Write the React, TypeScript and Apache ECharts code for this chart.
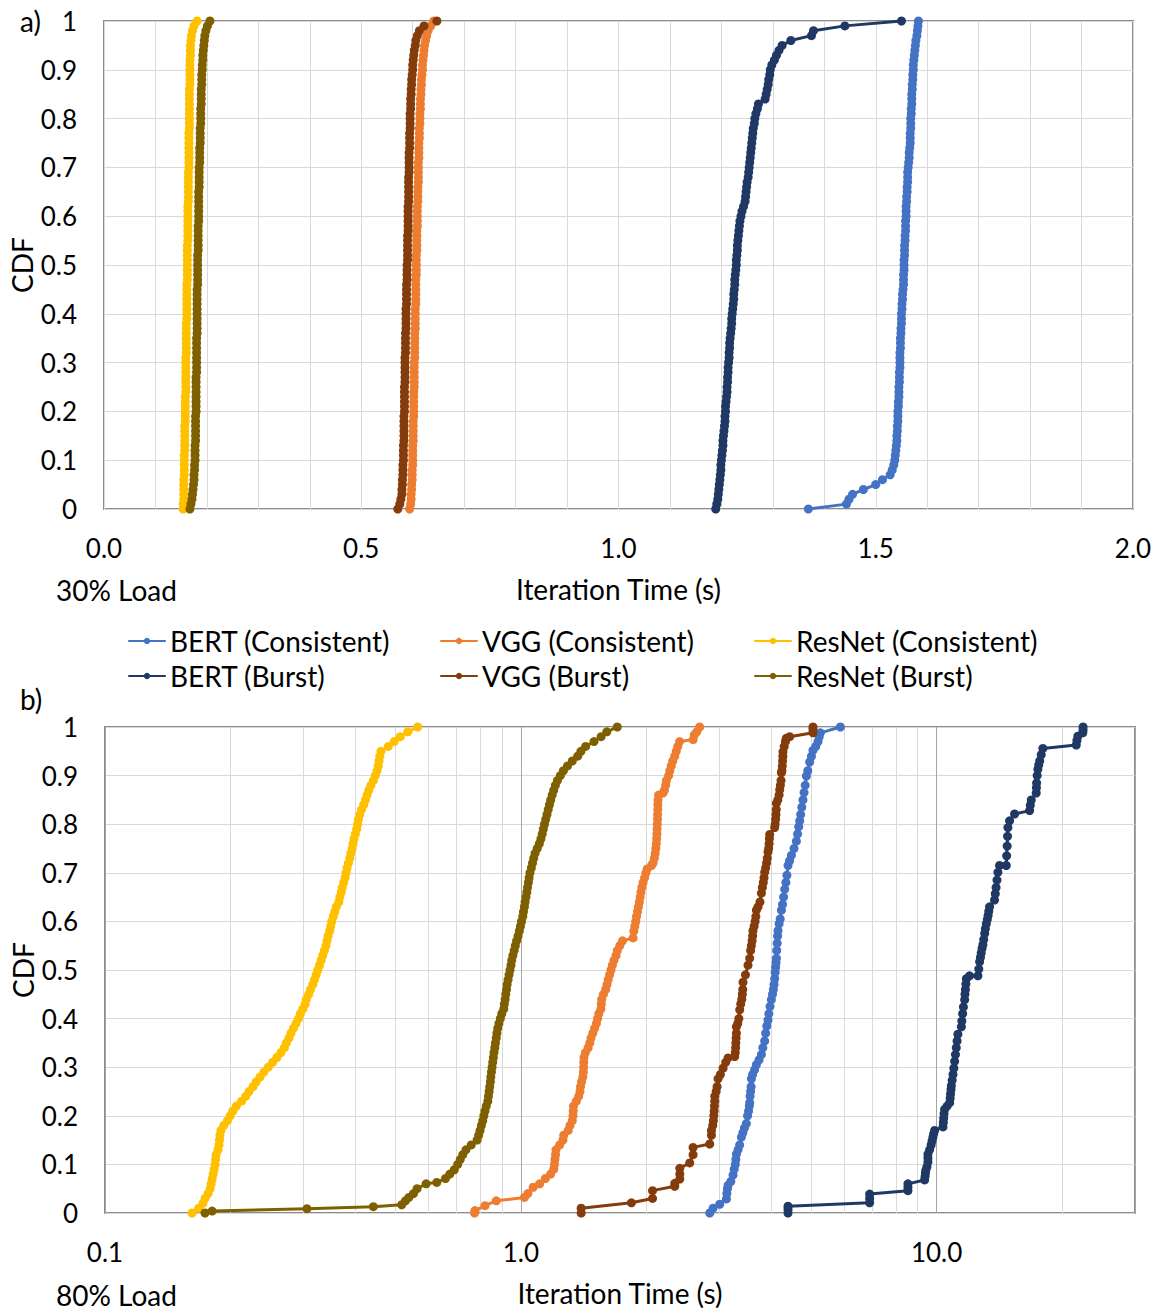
import React, { useEffect, useRef } from "react";
import * as echarts from "echarts";

const FONT = "Lato, 'Open Sans', sans-serif";
const TEXT_SIZE = 28;
const TICK_SIZE = 26;
const TEXT_COLOR = "#000000";

// Cumulative probability levels for the 30% load percentiles
const CDF_STEPS = [
  0, 0.01, 0.02, 0.03, 0.04, 0.05, 0.06, 0.07, 0.08, 0.09,
  0.1, 0.11, 0.12, 0.13, 0.14, 0.15, 0.16, 0.17, 0.18, 0.19,
  0.2, 0.21, 0.22, 0.23, 0.24, 0.25, 0.26, 0.27, 0.28, 0.29,
  0.3, 0.31, 0.32, 0.33, 0.34, 0.35, 0.36, 0.37, 0.38, 0.39,
  0.4, 0.41, 0.42, 0.43, 0.44, 0.45, 0.46, 0.47, 0.48, 0.49,
  0.5, 0.51, 0.52, 0.53, 0.54, 0.55, 0.56, 0.57, 0.58, 0.59,
  0.6, 0.61, 0.62, 0.63, 0.64, 0.65, 0.66, 0.67, 0.68, 0.69,
  0.7, 0.71, 0.72, 0.73, 0.74, 0.75, 0.76, 0.77, 0.78, 0.79,
  0.8, 0.81, 0.82, 0.83, 0.84, 0.85, 0.86, 0.87, 0.88, 0.89,
  0.9, 0.91, 0.92, 0.93, 0.94, 0.95, 0.96, 0.97, 0.98, 0.99,
  1,
];

// 30% load: iteration time (s) at each CDF step
const LOAD30_BERT_CONSISTENT = [
  1.369, 1.443, 1.448, 1.455, 1.476, 1.5, 1.513, 1.528, 1.532, 1.535,
  1.537, 1.538, 1.539, 1.54, 1.541, 1.541, 1.542, 1.542, 1.543, 1.543,
  1.543, 1.544, 1.544, 1.545, 1.545, 1.545, 1.546, 1.546, 1.546, 1.547,
  1.547, 1.547, 1.547, 1.548, 1.548, 1.548, 1.549, 1.549, 1.55, 1.55,
  1.55, 1.551, 1.551, 1.552, 1.552, 1.553, 1.554, 1.554, 1.554, 1.555,
  1.555, 1.555, 1.556, 1.556, 1.556, 1.557, 1.557, 1.558, 1.558, 1.558,
  1.559, 1.559, 1.559, 1.56, 1.56, 1.561, 1.561, 1.562, 1.562, 1.562,
  1.563, 1.564, 1.565, 1.565, 1.566, 1.567, 1.567, 1.567, 1.568, 1.568,
  1.568, 1.569, 1.569, 1.57, 1.57, 1.57, 1.571, 1.571, 1.572, 1.572,
  1.573, 1.573, 1.574, 1.575, 1.576, 1.577, 1.578, 1.58, 1.581, 1.582,
  1.583,
];
const LOAD30_VGG_CONSISTENT = [
  0.594, 0.596, 0.597, 0.597, 0.598, 0.598, 0.599, 0.599, 0.599, 0.6,
  0.6, 0.6, 0.6, 0.6, 0.601, 0.601, 0.601, 0.601, 0.601, 0.602,
  0.602, 0.602, 0.602, 0.602, 0.602, 0.603, 0.603, 0.603, 0.603, 0.603,
  0.603, 0.604, 0.604, 0.604, 0.604, 0.604, 0.604, 0.605, 0.605, 0.605,
  0.605, 0.605, 0.606, 0.606, 0.606, 0.606, 0.606, 0.606, 0.607, 0.607,
  0.607, 0.607, 0.607, 0.608, 0.608, 0.608, 0.608, 0.608, 0.609, 0.609,
  0.609, 0.609, 0.609, 0.61, 0.61, 0.61, 0.61, 0.611, 0.611, 0.611,
  0.611, 0.611, 0.612, 0.612, 0.612, 0.612, 0.613, 0.613, 0.613, 0.614,
  0.614, 0.614, 0.615, 0.615, 0.615, 0.616, 0.616, 0.617, 0.617, 0.618,
  0.619, 0.619, 0.62, 0.621, 0.622, 0.623, 0.625, 0.627, 0.63, 0.635,
  0.641,
];
const LOAD30_RESNET_CONSISTENT = [
  0.154, 0.154, 0.155, 0.155, 0.155, 0.155, 0.155, 0.156, 0.156, 0.156,
  0.156, 0.156, 0.157, 0.157, 0.157, 0.157, 0.157, 0.157, 0.158, 0.158,
  0.158, 0.158, 0.158, 0.158, 0.159, 0.159, 0.159, 0.159, 0.159, 0.159,
  0.159, 0.159, 0.16, 0.16, 0.16, 0.16, 0.16, 0.16, 0.16, 0.161,
  0.161, 0.161, 0.161, 0.161, 0.161, 0.161, 0.161, 0.162, 0.162, 0.162,
  0.162, 0.162, 0.162, 0.162, 0.162, 0.163, 0.163, 0.163, 0.163, 0.163,
  0.163, 0.163, 0.163, 0.164, 0.164, 0.164, 0.164, 0.164, 0.164, 0.164,
  0.165, 0.165, 0.165, 0.165, 0.165, 0.165, 0.165, 0.165, 0.166, 0.166,
  0.166, 0.166, 0.166, 0.166, 0.166, 0.166, 0.166, 0.167, 0.167, 0.167,
  0.167, 0.167, 0.167, 0.168, 0.168, 0.168, 0.169, 0.17, 0.172, 0.175,
  0.181,
];
const LOAD30_BERT_BURST = [
  1.189, 1.191, 1.193, 1.194, 1.195, 1.196, 1.197, 1.198, 1.199, 1.199,
  1.2, 1.201, 1.202, 1.203, 1.203, 1.204, 1.205, 1.206, 1.207, 1.207,
  1.208, 1.208, 1.209, 1.21, 1.211, 1.211, 1.212, 1.212, 1.213, 1.213,
  1.214, 1.215, 1.215, 1.216, 1.216, 1.217, 1.218, 1.219, 1.22, 1.22,
  1.221, 1.222, 1.223, 1.224, 1.224, 1.225, 1.226, 1.226, 1.227, 1.228,
  1.229, 1.229, 1.23, 1.231, 1.231, 1.232, 1.233, 1.234, 1.235, 1.236,
  1.238, 1.24, 1.243, 1.246, 1.247, 1.248, 1.249, 1.25, 1.252, 1.253,
  1.254, 1.255, 1.256, 1.257, 1.258, 1.259, 1.26, 1.261, 1.262, 1.264,
  1.265, 1.267, 1.27, 1.272, 1.285, 1.287, 1.289, 1.291, 1.292, 1.294,
  1.295, 1.298, 1.303, 1.307, 1.312, 1.318, 1.335, 1.375, 1.379, 1.44,
  1.55,
];
const LOAD30_VGG_BURST = [
  0.571, 0.575, 0.577, 0.579, 0.579, 0.58, 0.58, 0.581, 0.581, 0.581,
  0.582, 0.582, 0.582, 0.582, 0.583, 0.583, 0.583, 0.583, 0.583, 0.583,
  0.584, 0.584, 0.584, 0.584, 0.584, 0.584, 0.585, 0.585, 0.585, 0.585,
  0.585, 0.585, 0.586, 0.586, 0.586, 0.586, 0.586, 0.587, 0.587, 0.587,
  0.587, 0.587, 0.588, 0.588, 0.588, 0.588, 0.588, 0.589, 0.589, 0.589,
  0.589, 0.59, 0.59, 0.59, 0.59, 0.59, 0.59, 0.591, 0.591, 0.591,
  0.591, 0.591, 0.591, 0.592, 0.592, 0.592, 0.592, 0.592, 0.592, 0.593,
  0.593, 0.593, 0.593, 0.593, 0.594, 0.594, 0.594, 0.594, 0.595, 0.595,
  0.595, 0.595, 0.596, 0.596, 0.596, 0.597, 0.597, 0.598, 0.598, 0.599,
  0.6, 0.6, 0.601, 0.602, 0.603, 0.605, 0.606, 0.609, 0.613, 0.622,
  0.647,
];
const LOAD30_RESNET_BURST = [
  0.167, 0.169, 0.171, 0.172, 0.173, 0.174, 0.175, 0.175, 0.176, 0.176,
  0.177, 0.177, 0.177, 0.177, 0.178, 0.178, 0.178, 0.178, 0.178, 0.178,
  0.179, 0.179, 0.179, 0.179, 0.179, 0.179, 0.179, 0.179, 0.18, 0.18,
  0.18, 0.18, 0.18, 0.18, 0.18, 0.18, 0.181, 0.181, 0.181, 0.181,
  0.181, 0.181, 0.181, 0.181, 0.181, 0.181, 0.182, 0.182, 0.182, 0.182,
  0.182, 0.182, 0.182, 0.183, 0.183, 0.183, 0.183, 0.183, 0.183, 0.184,
  0.184, 0.184, 0.184, 0.184, 0.184, 0.184, 0.185, 0.185, 0.185, 0.185,
  0.185, 0.186, 0.186, 0.186, 0.186, 0.187, 0.187, 0.187, 0.187, 0.188,
  0.188, 0.188, 0.188, 0.189, 0.189, 0.189, 0.189, 0.19, 0.19, 0.19,
  0.191, 0.191, 0.192, 0.192, 0.193, 0.194, 0.195, 0.196, 0.198, 0.201,
  0.206,
];

// 80% load: [iteration time (s), CDF]
const LOAD80_BERT_CONSISTENT = [
  [2.847, 0], [2.9, 0.01], [3.009, 0.018], [3.123, 0.029], [3.13, 0.04], [3.14, 0.05],
  [3.151, 0.057], [3.2, 0.065], [3.239, 0.078], [3.26, 0.09], [3.28, 0.1], [3.29, 0.11],
  [3.3, 0.121], [3.33, 0.13], [3.36, 0.14], [3.392, 0.156], [3.42, 0.165], [3.45, 0.175],
  [3.487, 0.184], [3.51, 0.2], [3.53, 0.21], [3.545, 0.22], [3.552, 0.227], [3.56, 0.24],
  [3.57, 0.25], [3.58, 0.26], [3.586, 0.276], [3.61, 0.285], [3.65, 0.295], [3.686, 0.305],
  [3.74, 0.315], [3.79, 0.326], [3.82, 0.34], [3.859, 0.354], [3.88, 0.37], [3.905, 0.385],
  [3.931, 0.397], [3.95, 0.41], [3.975, 0.425], [4.005, 0.439], [4.03, 0.45], [4.05, 0.46],
  [4.065, 0.47], [4.079, 0.482], [4.09, 0.495], [4.1, 0.505], [4.11, 0.515], [4.118, 0.524],
  [4.125, 0.54], [4.135, 0.555], [4.145, 0.57], [4.155, 0.581], [4.18, 0.595], [4.205, 0.605],
  [4.234, 0.623], [4.26, 0.635], [4.285, 0.65], [4.312, 0.666], [4.34, 0.68], [4.365, 0.695],
  [4.392, 0.715], [4.43, 0.725], [4.475, 0.736], [4.54, 0.75], [4.6, 0.765], [4.63, 0.78],
  [4.66, 0.795], [4.685, 0.807], [4.71, 0.82], [4.74, 0.835], [4.771, 0.85], [4.8, 0.865],
  [4.83, 0.88], [4.862, 0.899], [4.9, 0.91], [4.951, 0.928], [5.0, 0.94], [5.043, 0.952],
  [5.12, 0.96], [5.185, 0.97], [5.22, 0.98], [5.254, 0.988], [5.869, 1],
];
const LOAD80_VGG_CONSISTENT = [
  [0.774, 0], [0.776, 0.005], [0.82, 0.015], [0.873, 0.025], [1.02, 0.032], [1.04, 0.04],
  [1.071, 0.053], [1.11, 0.06], [1.146, 0.071], [1.18, 0.08], [1.2, 0.09], [1.205, 0.1],
  [1.208, 0.11], [1.212, 0.12], [1.215, 0.13], [1.24, 0.14], [1.263, 0.15], [1.268, 0.16],
  [1.3, 0.17], [1.313, 0.18], [1.33, 0.19], [1.335, 0.2], [1.337, 0.21], [1.339, 0.22],
  [1.36, 0.23], [1.378, 0.24], [1.388, 0.25], [1.392, 0.26], [1.4, 0.27], [1.41, 0.28],
  [1.414, 0.29], [1.416, 0.3], [1.417, 0.31], [1.419, 0.32], [1.43, 0.33], [1.452, 0.34],
  [1.465, 0.35], [1.475, 0.36], [1.49, 0.37], [1.505, 0.38], [1.52, 0.39], [1.53, 0.4],
  [1.54, 0.41], [1.558, 0.42], [1.562, 0.43], [1.565, 0.44], [1.58, 0.45], [1.6, 0.46],
  [1.612, 0.47], [1.622, 0.48], [1.635, 0.49], [1.648, 0.5], [1.66, 0.51], [1.675, 0.52],
  [1.695, 0.53], [1.706, 0.54], [1.73, 0.55], [1.757, 0.56], [1.862, 0.566], [1.87, 0.58],
  [1.88, 0.59], [1.89, 0.6], [1.898, 0.61], [1.908, 0.62], [1.918, 0.63], [1.928, 0.64],
  [1.937, 0.65], [1.945, 0.66], [1.955, 0.67], [1.968, 0.68], [1.985, 0.69], [2.0, 0.7],
  [2.013, 0.708], [2.062, 0.715], [2.08, 0.72], [2.095, 0.73], [2.105, 0.74], [2.112, 0.75],
  [2.118, 0.76], [2.122, 0.77], [2.125, 0.78], [2.127, 0.79], [2.13, 0.8], [2.132, 0.81],
  [2.133, 0.82], [2.135, 0.83], [2.136, 0.84], [2.138, 0.85], [2.145, 0.86], [2.198, 0.864],
  [2.215, 0.87], [2.23, 0.88], [2.24, 0.89], [2.268, 0.9], [2.282, 0.91], [2.3, 0.92],
  [2.32, 0.93], [2.345, 0.94], [2.365, 0.95], [2.385, 0.96], [2.41, 0.97], [2.596, 0.974],
  [2.615, 0.984], [2.65, 0.99], [2.693, 1],
];
const LOAD80_RESNET_CONSISTENT = [
  [0.162, 0], [0.168, 0.01], [0.172, 0.02], [0.174, 0.03], [0.177, 0.04], [0.179, 0.05],
  [0.18, 0.06], [0.181, 0.07], [0.182, 0.08], [0.183, 0.09], [0.184, 0.1], [0.1845, 0.11],
  [0.185, 0.12], [0.187, 0.13], [0.188, 0.14], [0.1885, 0.15], [0.189, 0.16], [0.19, 0.17],
  [0.193, 0.18], [0.197, 0.19], [0.2, 0.2], [0.203, 0.21], [0.207, 0.22], [0.213, 0.23],
  [0.218, 0.24], [0.222, 0.25], [0.227, 0.26], [0.231, 0.27], [0.236, 0.28], [0.241, 0.29],
  [0.247, 0.3], [0.253, 0.31], [0.259, 0.32], [0.265, 0.33], [0.27, 0.34], [0.273, 0.35],
  [0.277, 0.36], [0.28, 0.37], [0.284, 0.38], [0.288, 0.39], [0.292, 0.4], [0.295, 0.41],
  [0.299, 0.42], [0.303, 0.43], [0.305, 0.44], [0.309, 0.45], [0.312, 0.46], [0.316, 0.47],
  [0.319, 0.48], [0.322, 0.49], [0.325, 0.5], [0.328, 0.51], [0.331, 0.52], [0.334, 0.53],
  [0.337, 0.54], [0.34, 0.55], [0.342, 0.56], [0.344, 0.57], [0.347, 0.58], [0.349, 0.59],
  [0.351, 0.6], [0.354, 0.61], [0.357, 0.62], [0.36, 0.63], [0.365, 0.64], [0.367, 0.65],
  [0.37, 0.66], [0.372, 0.67], [0.375, 0.68], [0.378, 0.69], [0.38, 0.7], [0.382, 0.71],
  [0.385, 0.72], [0.388, 0.73], [0.39, 0.74], [0.393, 0.75], [0.395, 0.76], [0.397, 0.77],
  [0.4, 0.78], [0.403, 0.79], [0.405, 0.8], [0.407, 0.81], [0.41, 0.82], [0.414, 0.83],
  [0.419, 0.84], [0.423, 0.85], [0.427, 0.86], [0.431, 0.87], [0.436, 0.88], [0.442, 0.89],
  [0.447, 0.9], [0.451, 0.91], [0.454, 0.92], [0.456, 0.93], [0.458, 0.94], [0.461, 0.95],
  [0.48, 0.96], [0.496, 0.97], [0.513, 0.98], [0.535, 0.99], [0.565, 1],
];
const LOAD80_BERT_BURST = [
  [4.392, 0], [4.392, 0.007], [4.392, 0.014], [6.902, 0.021], [6.902, 0.03], [6.902, 0.039],
  [8.531, 0.046], [8.531, 0.053], [8.531, 0.06], [9.358, 0.068], [9.38, 0.075], [9.4, 0.082],
  [9.42, 0.088], [9.48, 0.095], [9.53, 0.105], [9.53, 0.113], [9.53, 0.121], [9.62, 0.13],
  [9.7, 0.14], [9.75, 0.148], [9.797, 0.156], [9.84, 0.163], [9.89, 0.17], [10.36, 0.177],
  [10.38, 0.186], [10.4, 0.195], [10.42, 0.204], [10.45, 0.213], [10.6, 0.22], [10.75, 0.227],
  [10.78, 0.236], [10.8, 0.245], [10.83, 0.254], [10.85, 0.262], [10.9, 0.273], [10.95, 0.285],
  [11.0, 0.298], [11.05, 0.312], [11.1, 0.326], [11.15, 0.34], [11.2, 0.354], [11.25, 0.368],
  [11.47, 0.383], [11.5, 0.395], [11.55, 0.41], [11.6, 0.424], [11.68, 0.439], [11.7, 0.45],
  [11.73, 0.46], [11.76, 0.471], [11.79, 0.482], [12.0, 0.488], [12.57, 0.488], [12.63, 0.502],
  [12.69, 0.517], [12.75, 0.526], [12.8, 0.535], [12.86, 0.544], [12.92, 0.552], [12.98, 0.563],
  [13.05, 0.575], [13.1, 0.585], [13.17, 0.595], [13.24, 0.604], [13.3, 0.612], [13.35, 0.621],
  [13.41, 0.63], [13.78, 0.644], [13.84, 0.657], [13.9, 0.67], [13.97, 0.685], [14.04, 0.701],
  [14.17, 0.715], [14.71, 0.715], [14.74, 0.735], [14.78, 0.755], [14.81, 0.775], [14.84, 0.793],
  [14.98, 0.807], [15.4, 0.821], [16.74, 0.828], [16.8, 0.839], [16.89, 0.85], [17.36, 0.864],
  [17.38, 0.875], [17.4, 0.885], [17.45, 0.9], [17.52, 0.913], [17.6, 0.922], [17.7, 0.93],
  [17.85, 0.943], [18.01, 0.956], [21.67, 0.963], [21.75, 0.972], [21.86, 0.981], [22.47, 0.988],
  [22.5, 0.994], [22.5, 1],
];
const LOAD80_VGG_BURST = [
  [1.397, 0], [1.397, 0.01], [1.845, 0.021], [2.074, 0.03], [2.074, 0.046], [2.346, 0.055],
  [2.346, 0.061], [2.412, 0.07], [2.412, 0.08], [2.412, 0.092], [2.548, 0.103], [2.596, 0.12],
  [2.596, 0.135], [2.847, 0.142], [2.874, 0.16], [2.874, 0.17], [2.895, 0.18], [2.905, 0.19],
  [2.912, 0.2], [2.918, 0.21], [2.922, 0.22], [2.927, 0.23], [2.927, 0.24], [2.95, 0.25],
  [2.965, 0.26], [2.981, 0.276], [3.02, 0.285], [3.065, 0.298], [3.11, 0.31], [3.151, 0.319],
  [3.269, 0.322], [3.28, 0.33], [3.285, 0.34], [3.29, 0.35], [3.295, 0.36], [3.3, 0.37],
  [3.3, 0.383], [3.325, 0.39], [3.345, 0.4], [3.361, 0.418], [3.38, 0.43], [3.4, 0.44],
  [3.41, 0.45], [3.418, 0.46], [3.423, 0.475], [3.47, 0.49], [3.519, 0.51], [3.552, 0.524],
  [3.57, 0.54], [3.585, 0.55], [3.6, 0.56], [3.61, 0.57], [3.617, 0.581], [3.64, 0.59],
  [3.66, 0.6], [3.675, 0.61], [3.686, 0.623], [3.72, 0.63], [3.76, 0.64], [3.79, 0.658],
  [3.81, 0.67], [3.83, 0.68], [3.845, 0.69], [3.859, 0.701], [3.88, 0.71], [3.9, 0.72],
  [3.915, 0.73], [3.931, 0.743], [3.945, 0.75], [3.955, 0.76], [3.962, 0.77], [3.968, 0.779],
  [4.079, 0.793], [4.09, 0.8], [4.1, 0.81], [4.108, 0.82], [4.115, 0.83], [4.118, 0.843],
  [4.15, 0.85], [4.18, 0.86], [4.194, 0.871], [4.21, 0.88], [4.225, 0.89], [4.234, 0.906],
  [4.245, 0.91], [4.255, 0.92], [4.262, 0.93], [4.268, 0.94], [4.271, 0.949], [4.3, 0.96],
  [4.33, 0.97], [4.352, 0.977], [4.432, 0.98], [5.043, 0.988], [5.043, 0.995], [5.043, 1],
];
const LOAD80_RESNET_BURST = [
  [0.174, 0], [0.181, 0.004], [0.306, 0.009], [0.442, 0.013], [0.517, 0.017], [0.528, 0.025],
  [0.538, 0.032], [0.552, 0.04], [0.563, 0.05], [0.592, 0.06], [0.628, 0.063], [0.659, 0.071],
  [0.675, 0.08], [0.692, 0.089], [0.705, 0.1], [0.715, 0.11], [0.725, 0.12], [0.738, 0.13],
  [0.76, 0.14], [0.785, 0.15], [0.792, 0.16], [0.798, 0.17], [0.804, 0.18], [0.81, 0.19],
  [0.815, 0.2], [0.82, 0.21], [0.826, 0.22], [0.833, 0.23], [0.836, 0.24], [0.839, 0.25],
  [0.842, 0.26], [0.845, 0.27], [0.847, 0.28], [0.85, 0.29], [0.853, 0.3], [0.856, 0.31],
  [0.859, 0.32], [0.862, 0.33], [0.866, 0.34], [0.869, 0.35], [0.873, 0.36], [0.876, 0.37],
  [0.88, 0.38], [0.886, 0.39], [0.893, 0.4], [0.9, 0.41], [0.91, 0.42], [0.913, 0.43],
  [0.917, 0.44], [0.92, 0.45], [0.924, 0.46], [0.927, 0.47], [0.932, 0.48], [0.937, 0.49],
  [0.942, 0.5], [0.947, 0.51], [0.951, 0.52], [0.957, 0.53], [0.964, 0.54], [0.97, 0.55],
  [0.977, 0.56], [0.985, 0.57], [0.992, 0.58], [0.998, 0.59], [1.004, 0.6], [1.011, 0.61],
  [1.015, 0.62], [1.02, 0.63], [1.024, 0.64], [1.029, 0.65], [1.034, 0.66], [1.038, 0.67],
  [1.043, 0.68], [1.047, 0.69], [1.052, 0.7], [1.06, 0.71], [1.067, 0.72], [1.074, 0.73],
  [1.082, 0.74], [1.095, 0.75], [1.108, 0.76], [1.118, 0.77], [1.126, 0.78], [1.133, 0.79],
  [1.14, 0.8], [1.148, 0.81], [1.156, 0.82], [1.164, 0.83], [1.172, 0.84], [1.18, 0.85],
  [1.19, 0.86], [1.2, 0.87], [1.211, 0.88], [1.225, 0.89], [1.245, 0.9], [1.266, 0.91],
  [1.295, 0.92], [1.33, 0.93], [1.37, 0.94], [1.395, 0.95], [1.432, 0.96], [1.5, 0.97],
  [1.56, 0.98], [1.61, 0.99], [1.706, 1],
];

// Minor vertical grid lines of the logarithmic time axis
const LOG_MINOR_GRID = [0.2, 0.3, 0.4, 0.5, 0.6, 0.7, 0.8, 0.9, 2, 3, 4, 5, 6, 7, 8, 9, 20];

const NAMES = {
  bertC: "BERT (Consistent)",
  bertB: "BERT (Burst)",
  vggC: "VGG (Consistent)",
  vggB: "VGG (Burst)",
  resC: "ResNet (Consistent)",
  resB: "ResNet (Burst)",
};

const COLORS = {
  bertC: "#4472C4",
  bertB: "#203864",
  vggC: "#ED7D31",
  vggB: "#843C0C",
  resC: "#FFC000",
  resB: "#7F6000",
};

const toPoints = (times: number[]) => times.map((t, i) => [t, CDF_STEPS[i]]);

function cdfSeries(key: keyof typeof NAMES, data: number[][], panel: number) {
  const color = COLORS[key];
  return {
    type: "line",
    name: NAMES[key],
    data,
    xAxisIndex: panel,
    yAxisIndex: panel,
    symbol: "circle",
    symbolSize: 9,
    showSymbol: true,
    clip: false,
    z: 3,
    itemStyle: { color },
    lineStyle: { color, width: 3, cap: "round", join: "round" },
    emphasis: { disabled: true },
  };
}

const axisText = { fontSize: TEXT_SIZE, fontFamily: FONT, color: TEXT_COLOR };
const tickText = { fontSize: TICK_SIZE, fontFamily: FONT, color: TEXT_COLOR };

function yAxisFor(gridIndex: number) {
  return {
    type: "value",
    gridIndex,
    min: 0,
    max: 1,
    interval: 0.1,
    name: "CDF",
    nameLocation: "middle",
    nameRotate: 90,
    nameGap: 68,
    nameMoveOverlap: false,
    nameTextStyle: axisText,
    axisLine: { show: false },
    axisTick: { show: false },
    axisLabel: { ...tickText, margin: 27 },
    splitLine: { show: true, lineStyle: { color: "#d9d9d9", width: 1 } },
  };
}

function legendColumn(left: number, names: string[]) {
  return {
    data: names,
    left,
    top: 627,
    orient: "vertical",
    padding: 0,
    itemWidth: 36,
    itemHeight: 8,
    itemGap: 7,
    selectedMode: false,
    textStyle: { ...axisText, lineHeight: 28 },
  };
}

function labelText(x: number, y: number, text: string) {
  return {
    type: "text",
    x,
    y,
    silent: true,
    style: {
      text,
      fontSize: TEXT_SIZE,
      fontFamily: FONT,
      fill: TEXT_COLOR,
      verticalAlign: "middle",
      align: "left",
    },
  };
}

const gridBox = {
  show: true,
  containLabel: false,
  outerBoundsMode: "none",
  borderColor: "#8c8c8c",
  borderWidth: 2,
  backgroundColor: "transparent",
};

export default function App() {
  const ref = useRef<HTMLDivElement>(null);

  useEffect(() => {
    if (!ref.current) return;
    const chart = echarts.init(ref.current, undefined, { renderer: "svg" });

    const option = {
      animation: false,
      backgroundColor: "#ffffff",
      textStyle: { fontFamily: FONT },
      grid: [
        { ...gridBox, left: 104, top: 21, width: 1029, height: 488 },
        { ...gridBox, left: 105, top: 727, width: 1030, height: 486 },
      ],
      xAxis: [
        {
          type: "value",
          gridIndex: 0,
          min: 0,
          max: 2,
          interval: 0.5,
          name: "Iteration Time (s)",
          nameLocation: "middle",
          nameGap: 66,
          nameMoveOverlap: false,
          nameTextStyle: axisText,
          axisLine: { show: false },
          axisTick: { show: false },
          axisLabel: { ...tickText, margin: 26, formatter: (v: number) => v.toFixed(1) },
          splitLine: { show: true, lineStyle: { color: "#d9d9d9", width: 1 } },
          minorTick: { show: false, splitNumber: 5 },
          minorSplitLine: { show: true, lineStyle: { color: "#d9d9d9", width: 1 } },
        },
        {
          type: "log",
          logBase: 10,
          gridIndex: 1,
          min: 0.1,
          max: 30,
          name: "Iteration Time (s)",
          nameLocation: "middle",
          nameGap: 66,
          nameMoveOverlap: false,
          nameTextStyle: axisText,
          axisLine: { show: false },
          axisTick: { show: false },
          axisLabel: {
            ...tickText,
            margin: 26,
            showMaxLabel: false,
            formatter: (v: number) => {
              const e = Math.log10(v);
              return Math.abs(e - Math.round(e)) < 1e-6 ? v.toFixed(1) : "";
            },
          },
          splitLine: { show: true, lineStyle: { color: "#a6a6a6", width: 1 } },
        },
      ],
      yAxis: [yAxisFor(0), yAxisFor(1)],
      legend: [
        legendColumn(128, [NAMES.bertC, NAMES.bertB]),
        legendColumn(440, [NAMES.vggC, NAMES.vggB]),
        legendColumn(754, [NAMES.resC, NAMES.resB]),
      ],
      graphic: [
        labelText(20, 21, "a)"),
        labelText(20, 699, "b)"),
        labelText(56, 590, "30% Load"),
        labelText(56, 1295, "80% Load"),
      ],
      series: [
        cdfSeries("bertC", toPoints(LOAD30_BERT_CONSISTENT), 0),
        cdfSeries("vggC", toPoints(LOAD30_VGG_CONSISTENT), 0),
        cdfSeries("resC", toPoints(LOAD30_RESNET_CONSISTENT), 0),
        cdfSeries("bertB", toPoints(LOAD30_BERT_BURST), 0),
        cdfSeries("vggB", toPoints(LOAD30_VGG_BURST), 0),
        cdfSeries("resB", toPoints(LOAD30_RESNET_BURST), 0),
        cdfSeries("bertC", LOAD80_BERT_CONSISTENT, 1),
        cdfSeries("vggC", LOAD80_VGG_CONSISTENT, 1),
        cdfSeries("resC", LOAD80_RESNET_CONSISTENT, 1),
        cdfSeries("bertB", LOAD80_BERT_BURST, 1),
        cdfSeries("vggB", LOAD80_VGG_BURST, 1),
        cdfSeries("resB", LOAD80_RESNET_BURST, 1),
        {
          type: "line",
          name: "log-grid",
          xAxisIndex: 1,
          yAxisIndex: 1,
          data: [],
          silent: true,
          z: 1,
          markLine: {
            silent: true,
            z: 1,
            symbol: ["none", "none"],
            label: { show: false },
            emphasis: { disabled: true },
            lineStyle: { color: "#d9d9d9", width: 1, type: "solid" },
            data: LOG_MINOR_GRID.map((v) => ({ xAxis: v })),
          },
        },
      ],
    };

    chart.setOption(option as any);
    return () => chart.dispose();
  }, []);

  return (
    <div
      ref={ref}
      style={{ position: "absolute", left: 0, top: 0, width: 1157, height: 1313, background: "#fff" }}
    />
  );
}
